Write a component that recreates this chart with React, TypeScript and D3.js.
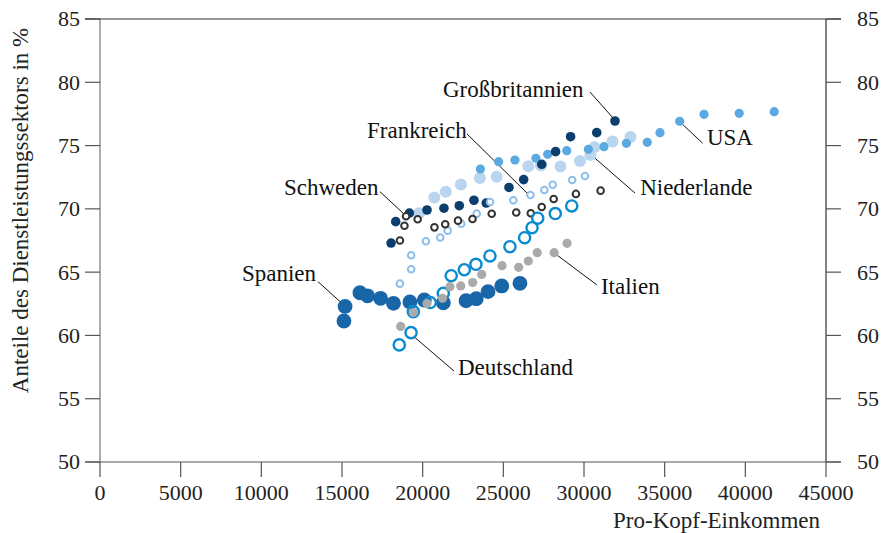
import React from "react";
import * as d3 from "d3";

// ---- Data (Pro-Kopf-Einkommen, Anteil Dienstleistungssektor in %) ----
const spanienX = [15120, 15190, 16110, 16580, 17390, 18190, 19210, 20100, 21280, 22690, 23320, 24050, 24900, 26030];
const spanienY = [61.14, 62.29, 63.37, 63.13, 62.93, 62.54, 62.64, 62.8, 62.58, 62.74, 62.9, 63.46, 63.91, 64.12];

const deutschlandX = [18550, 19280, 19420, 20470, 21280, 21770, 22580, 23300, 24170, 25410, 26320, 26780, 27130, 28220, 29240];
const deutschlandY = [59.25, 60.22, 61.88, 62.6, 63.33, 64.72, 65.19, 65.62, 66.28, 67.01, 67.72, 68.51, 69.26, 69.63, 70.23];

const italienX = [18640, 19420, 20270, 21230, 21690, 22360, 23100, 23660, 24920, 25950, 26550, 27100, 28150, 28950];
const italienY = [60.71, 61.81, 62.52, 62.93, 63.85, 63.91, 64.18, 64.82, 65.51, 65.38, 65.88, 66.54, 66.54, 67.28];

const schwedenX = [18590, 18870, 18970, 19690, 20730, 21400, 22190, 23090, 24280, 25800, 26700, 27380, 28120, 29500, 31030];
const schwedenY = [67.5, 68.66, 69.41, 69.18, 68.54, 68.78, 69.07, 69.2, 69.61, 69.71, 69.65, 70.15, 70.78, 71.18, 71.44];

const frankreichX = [18590, 19290, 19290, 20200, 21090, 21550, 22390, 23350, 24180, 25620, 26680, 27540, 28060, 29270, 30060];
const frankreichY = [64.09, 65.23, 66.34, 67.44, 67.74, 68.28, 68.83, 69.62, 70.54, 70.68, 71.1, 71.49, 71.91, 72.28, 72.6];

const grossbritannienX = [18040, 18330, 19180, 20270, 21320, 22270, 23180, 23940, 25350, 26260, 27380, 28240, 29170, 30790, 31920];
const grossbritannienY = [67.3, 68.99, 69.67, 69.91, 70.05, 70.25, 70.68, 70.46, 71.69, 72.31, 73.52, 74.52, 75.7, 76.02, 76.94];

const niederlandeX = [19770, 20720, 21430, 22370, 23550, 24590, 26550, 27330, 28540, 29750, 30400, 30650, 31770, 32880];
const niederlandeY = [69.65, 70.9, 71.36, 71.93, 72.44, 72.54, 73.36, 73.43, 73.35, 73.78, 74.26, 74.86, 75.33, 75.68];

const usaX = [23580, 24710, 25720, 27020, 27750, 28930, 30270, 31240, 32630, 33920, 34710, 35930, 37440, 39620, 41790];
const usaY = [73.15, 73.73, 73.86, 74.0, 74.31, 74.6, 74.71, 74.91, 75.18, 75.26, 76.02, 76.92, 77.47, 77.55, 77.68];

const xTicks = [0, 5000, 10000, 15000, 20000, 25000, 30000, 35000, 40000, 45000];
const yTicks = [50, 55, 60, 65, 70, 75, 80, 85];

// annotation labels (data units): text anchor and leader line
const labelNames = ["Großbritannien", "Frankreich", "Schweden", "Spanien", "Deutschland", "Italien", "Niederlande", "USA"];
const labelX = [21260, 16550, 11400, 8800, 22190, 31050, 33480, 37620];
const labelY = [78.84, 75.6, 71.1, 64.3, 56.88, 63.28, 71.1, 75.05];
const lineX1 = [30370, 22750, 17350, 13510, 19460, 28310, 30680, 35930];
const lineY1 = [79.23, 75.92, 71.36, 64.25, 59.9, 66.36, 74.0, 76.89];
const lineX2 = [31800, 26470, 18780, 14880, 21940, 30800, 33160, 37360];
const lineY2 = [77.18, 71.25, 69.67, 62.67, 57.19, 63.99, 71.25, 75.18];

type Style = { r: number; fill: string; stroke: string; sw: number };

const seriesList: { x: number[]; y: number[]; s: Style }[] = [
  { x: niederlandeX, y: niederlandeY, s: { r: 6, fill: "#b9d5ef", stroke: "none", sw: 0 } },
  { x: usaX, y: usaY, s: { r: 4.6, fill: "#5aa9e1", stroke: "none", sw: 0 } },
  { x: grossbritannienX, y: grossbritannienY, s: { r: 4.8, fill: "#0c3e6d", stroke: "none", sw: 0 } },
  { x: frankreichX, y: frankreichY, s: { r: 3.3, fill: "white", stroke: "#8dbfea", sw: 2 } },
  { x: schwedenX, y: schwedenY, s: { r: 3.3, fill: "white", stroke: "#333333", sw: 2 } },
  { x: spanienX, y: spanienY, s: { r: 7.4, fill: "#1866a8", stroke: "none", sw: 0 } },
  { x: deutschlandX, y: deutschlandY, s: { r: 5.6, fill: "none", stroke: "#0a8bd1", sw: 2.4 } },
  { x: italienX, y: italienY, s: { r: 4.6, fill: "#aaaaaa", stroke: "none", sw: 0 } },
];

const W = 885;
const H = 533;
const FONT = "'Liberation Serif', 'Times New Roman', serif";

export default function App() {
  const x = d3.scaleLinear().domain([0, 45000]).range([100, 826]);
  const y = d3.scaleLinear().domain([50, 85]).range([462, 19]);
  const axisColor = "#555";
  const tickLen = 15;
  const [x0, x1] = x.range();
  const [yb, yt] = y.range();

  return (
    <svg width={W} height={H} style={{ position: "absolute", left: 0, top: 0, background: "white" }}>
      {/* frame */}
      <line x1={x0} x2={x0} y1={yt} y2={yb} stroke="#777" strokeWidth={1.2} />
      <line x1={x1} x2={x1} y1={yt} y2={yb} stroke="#333" strokeWidth={1.2} />
      {/* y ticks left & right */}
      {yTicks.map((t) => (
        <g key={"y" + t}>
          <line x1={x0 - tickLen} x2={x0} y1={y(t)} y2={y(t)} stroke={axisColor} strokeWidth={1.2} />
          <line x1={x1} x2={x1 + tickLen} y1={y(t)} y2={y(t)} stroke={axisColor} strokeWidth={1.2} />
          <text x={x0 - 20} y={y(t)} dy="0.34em" textAnchor="end" fontFamily={FONT} fontSize={22} fill="#222">
            {t}
          </text>
          <text x={x1 + 31} y={y(t)} dy="0.34em" textAnchor="start" fontFamily={FONT} fontSize={22} fill="#222">
            {t}
          </text>
        </g>
      ))}
      {/* top and bottom lines */}
      <line x1={x0 - tickLen} x2={x1 + tickLen} y1={yt} y2={yt} stroke="#333" strokeWidth={1.2} />
      <line x1={x0 - tickLen} x2={x1 + tickLen} y1={yb} y2={yb} stroke={axisColor} strokeWidth={1.2} />
      {/* x ticks */}
      {xTicks.map((t) => (
        <g key={"x" + t}>
          <line x1={x(t)} x2={x(t)} y1={yb} y2={yb + tickLen} stroke={axisColor} strokeWidth={1.2} />
          <text x={x(t)} y={yb + 31} dy="0.34em" textAnchor="middle" fontFamily={FONT} fontSize={22} fill="#222">
            {t}
          </text>
        </g>
      ))}
      {/* axis titles */}
      <text
        transform={`translate(28, ${(yt + yb) / 2 - 30}) rotate(-90)`}
        textAnchor="middle"
        fontFamily={FONT}
        fontSize={23}
        fill="#222"
      >
        Anteile des Dienstleistungssektors in %
      </text>
      <text x={820} y={528} textAnchor="end" fontFamily={FONT} fontSize={23} fill="#222">
        Pro-Kopf-Einkommen
      </text>

      {/* leader lines */}
      {labelNames.map((n, i) => (
        <line
          key={"l" + n}
          x1={x(lineX1[i])}
          y1={y(lineY1[i])}
          x2={x(lineX2[i])}
          y2={y(lineY2[i])}
          stroke="#111"
          strokeWidth={1}
        />
      ))}

      {/* points */}
      {seriesList.map((ser, si) => (
        <g key={"s" + si}>
          {ser.x.map((v, i) => (
            <circle
              key={i}
              cx={x(v)}
              cy={y(ser.y[i])}
              r={ser.s.r}
              fill={ser.s.fill}
              stroke={ser.s.stroke}
              strokeWidth={ser.s.sw}
            />
          ))}
        </g>
      ))}

      {/* labels */}
      {labelNames.map((n, i) => (
        <text key={"t" + n} x={x(labelX[i])} y={y(labelY[i])} fontFamily={FONT} fontSize={23} fill="#111">
          {n}
        </text>
      ))}
    </svg>
  );
}
